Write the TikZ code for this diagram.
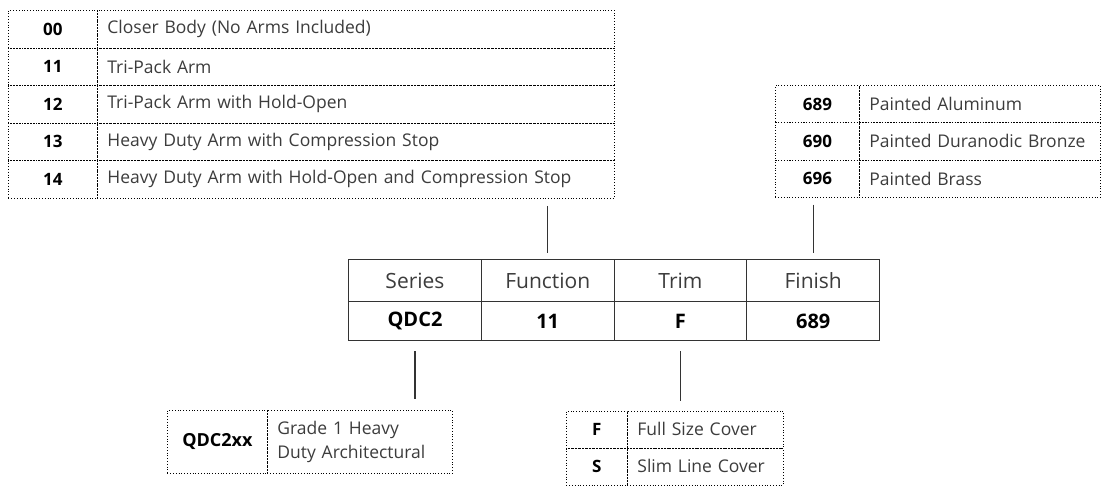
\documentclass[tikz,border=0pt]{standalone}
\usepackage{fontspec}
\setmainfont{Open Sans}
\usetikzlibrary{positioning}
\definecolor{txtgray}{HTML}{3C3C3C}
\definecolor{rulegray}{HTML}{333333}

\begin{document}
\begin{tikzpicture}[x=1pt, y=-1pt]
  \tikzstyle{cell} = [draw, dotted, line width=0.8pt, inner sep=0pt, anchor=north west]
  \tikzstyle{code} = [cell, font=\bfseries\fontsize{17}{19}\selectfont]
  \tikzstyle{desc} = [cell, font=\fontsize{17.5}{24}\selectfont, text=txtgray, inner xsep=10pt, align=left]
  \tikzstyle{head} = [draw=rulegray, line width=1.2pt, minimum width=132.75pt, inner sep=0pt, anchor=north west]
  \tikzstyle{link} = [draw=rulegray, line width=1.2pt]
  \useasboundingbox (0,0) rectangle (1102,485);

  % function options
  \foreach \code/\desc [count=\i from 0] in {00/Closer Body (No Arms Included), 11/Tri-Pack Arm,
      12/Tri-Pack Arm with Hold-Open, 13/Heavy Duty Arm with Compression Stop,
      14/Heavy Duty Arm with Hold-Open and Compression Stop}
  {
    \node[code, minimum width=89pt, minimum height=37.5pt] (fc\i) at (8,10+37.5*\i) {\code};
    \node[desc, minimum height=37.5pt, text width=497pt] (fd\i) at (97,10+37.5*\i) {\desc};
  }

  % finish options
  \foreach \code/\desc [count=\i from 0] in {689/Painted Aluminum, 690/Painted Duranodic Bronze, 696/Painted Brass}
  {
    \node[code, minimum width=84pt, minimum height=37.3pt] (ec\i) at (775,85+37.3*\i) {\code};
    \node[desc, minimum height=37.3pt, text width=221pt] (ed\i) at (859,85+37.3*\i) {\desc};
  }

  % part number
  \foreach \head/\val [count=\i from 0] in {Series/QDC2, Function/11, Trim/F, Finish/689}
  {
    \node[head, minimum height=42pt, text=txtgray, font=\fontsize{21}{24}\selectfont] (h\i) at (348+132.75*\i,259) {\head};
    \node[head, minimum height=39pt, font=\bfseries\fontsize{20}{22}\selectfont] (v\i) at (348+132.75*\i,301) {\val};
  }

  % series
  \node[code, minimum width=100pt, minimum height=63pt, font=\bfseries\fontsize{18}{20}\selectfont] (sc) at (167,410) {QDC2xx};
  \node[desc, minimum height=63pt, text width=165pt] (sd) at (267,410) {Grade 1 Heavy\\Duty Architectural};

  % trim
  \foreach \code/\desc [count=\i from 0] in {F/Full Size Cover, S/Slim Line Cover}
  {
    \node[code, minimum width=61pt, minimum height=37pt] (tc\i) at (566,410.5+37*\i) {\code};
    \node[desc, minimum height=37pt, text width=136pt] (td\i) at (627,410.5+37*\i) {\desc};
  }

  \draw[link] ([yshift=-7.5pt]fd4.south -| h1.north) -- ([yshift=6pt]h1.north);
  \draw[link] ([yshift=-7pt]ed2.south -| h3.north) -- ([yshift=6pt]h3.north);
  \draw[link] ([yshift=-10pt]v0.south) -- ([yshift=11pt]sc.north -| v0.south);
  \draw[link] ([yshift=-10pt]v2.south) -- ([yshift=10pt]tc0.north -| v2.south);
\end{tikzpicture}
\end{document}
